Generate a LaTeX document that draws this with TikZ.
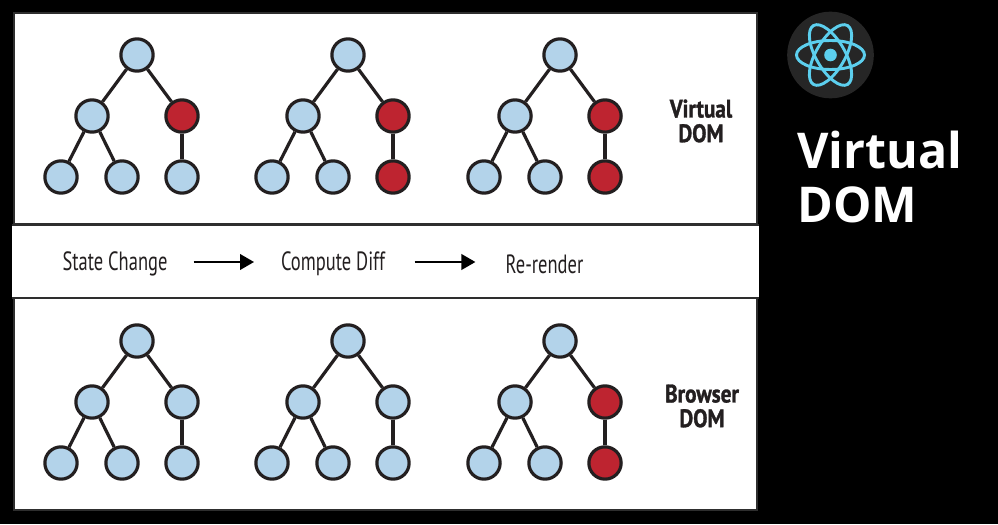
\documentclass[tikz,border=0pt]{standalone}
\usepackage{fontspec}
\setmainfont{Open Sans}
\newfontfamily\narrowfont[FakeStretch=0.70]{PT Sans}
\newfontfamily\narrowbold[FakeStretch=0.84,BoldFont={PT Sans Bold},BoldFeatures={FakeStretch=0.84,FakeBold=1.2}]{PT Sans}
\newfontfamily\titlefont[FakeStretch=0.98]{Open Sans}
\definecolor{inkc}{HTML}{231F20}
\definecolor{bluec}{HTML}{B3D3EA}
\definecolor{redc}{HTML}{BE2430}
\definecolor{reactc}{HTML}{5CCFEE}
\definecolor{panelline}{HTML}{2E2E2E}
\usetikzlibrary{arrows.meta}
\tikzset{
  x=0.75pt,y=-0.75pt,
  tn/.style={circle,draw=inkc,line width=2.4pt,minimum size=24.2pt,inner sep=0pt,fill=bluec},
  tnred/.style={tn,fill=redc},
  link/.style={draw=inkc,line width=2.4pt},
  panel/.style={draw=panelline,line width=2pt,fill=white},
  steplabel/.style={font=\narrowfont\fontsize{19.8}{20}\selectfont,text=inkc,inner sep=0pt,anchor=center},
  sidelabel/.style={font=\narrowbold\bfseries\fontsize{19}{19.5}\selectfont,text=inkc,inner sep=0pt,align=center,anchor=center},
  flow/.style={draw=black,line width=2pt,-{Triangle[length=10.5pt,width=11.5pt]}},
  orbit/.style={draw=reactc,line width=2.2pt}
}
% #1 prefix, #2 dx, #3 root y, #4 mid-right style, #5 leaf-right style
\newcommand{\domtree}[5]{
  \node[tn] (#1r) at (137+#2,#3) {};
  \node[tn] (#1a) at (92+#2,#3+61) {};
  \node[#4] (#1b) at (182+#2,#3+61) {};
  \node[tn] (#1c) at (61+#2,#3+122) {};
  \node[tn] (#1d) at (122+#2,#3+122) {};
  \node[#5] (#1e) at (182+#2,#3+122) {};
  \draw[link] (#1r) -- (#1a);
  \draw[link] (#1r) -- (#1b);
  \draw[link] (#1a) -- (#1c);
  \draw[link] (#1a) -- (#1d);
  \draw[link] (#1b) -- (#1e);
}
\begin{document}
\begin{tikzpicture}
\useasboundingbox (0,0) rectangle (998,524);
\fill[black] (0,0) rectangle (998,524);
% panels
\draw[panel] (14,13) rectangle (757,224);
\draw[panel] (14,298) rectangle (757,510);
\fill[white] (12,226) rectangle (759,297);
\draw[panelline,line width=2pt] (12,225) -- (759,225) (12,298) -- (759,298);
% trees
\domtree{p}{0}{55}{tnred}{tn}
\domtree{q}{211}{55}{tnred}{tnred}
\domtree{s}{423}{55}{tnred}{tnred}
\domtree{u}{0}{341}{tn}{tn}
\domtree{v}{211}{341}{tn}{tn}
\domtree{w}{423}{341}{tnred}{tnred}
% side labels
\node[sidelabel] (lv) at (701,121) {Virtual\\[-1pt]DOM};
\node[sidelabel] (lb) at (702,406) {Browser\\[-1pt]DOM};
% flow
\node[steplabel] (f1) at (115,264) {State Change};
\node[steplabel] (f2) at (333,264) {Compute Diff};
\node[steplabel] (f3) at (544.5,264) {Re-render};
\draw[flow,shorten <=19.5pt,shorten >=20pt] (f1.east |- 0,262) -- (f2.west |- 0,262);
\draw[flow,shorten <=22pt,shorten >=22.5pt] (f2.east |- 0,262) -- (f3.west |- 0,262);
% logo
\node[circle,fill=black!85!white,minimum size=65pt,inner sep=0pt] (logo) at (830.5,55) {};
\draw[orbit] (logo.center) ellipse [x radius=34,y radius=14.5];
\draw[orbit,rotate around={60:(830.5,55)}] (logo.center) ellipse [x radius=34,y radius=14.5];
\draw[orbit,rotate around={-60:(830.5,55)}] (logo.center) ellipse [x radius=34,y radius=14.5];
\fill[reactc] (logo.center) circle [radius=6.3];
% title
\node[anchor=west,inner sep=0pt,text=white,font=\titlefont\fontsize{37}{41}\selectfont\bfseries,align=left] (title) at (797,177) {Virtual\\DOM};
\end{tikzpicture}
\end{document}
